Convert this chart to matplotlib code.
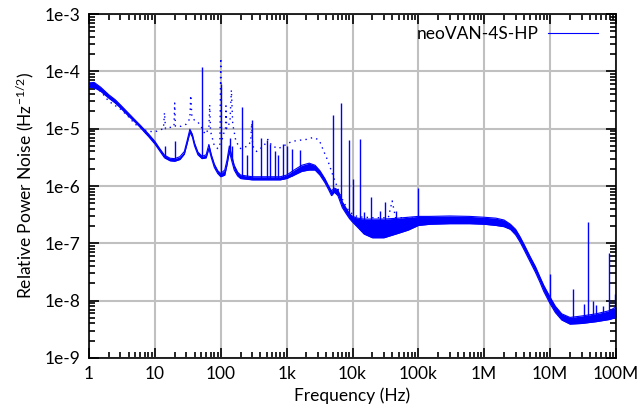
import numpy as np
import matplotlib
matplotlib.use('Agg')
import matplotlib.pyplot as plt
from matplotlib.ticker import FixedLocator, LogLocator, FuncFormatter, NullFormatter

plt.rcParams['font.family'] = ['Lato', 'DejaVu Sans']
plt.rcParams['mathtext.default'] = 'regular'

# solid trace: frequency, lower and upper edge of the noise band
solid_f = [1, 1.2, 1.5, 2.0, 2.5, 3.0, 4.0, 5.0, 6.0, 7.0, 8.0, 10, 12, 14, 17, 20, 24, 28,
           31, 34, 37, 40, 45, 52, 60, 66, 72, 80, 90, 100, 115, 125, 135, 145, 160, 180,
           200, 300, 500, 800, 1000, 1300, 1700, 2200, 2700, 3200, 3800, 4300, 4800, 5300,
           6000, 7000, 8000, 9000, 1e4, 1.2e4, 1.5e4, 2e4, 3e4, 5e4, 7e4, 1e5, 1.5e5, 3e5,
           6e5, 1e6, 1.5e6, 2e6, 2.5e6, 3e6, 3.5e6, 4e6, 5e6, 6e6, 7e6, 8e6, 1e7, 1.2e7,
           1.5e7, 2e7, 3e7, 5e7, 8e7, 1e8]
solid_lo = [5.3e-5, 5.2e-5, 4.5e-5, 3.4e-5, 2.8e-5, 2.3e-5, 1.65e-5, 1.3e-5, 1.05e-5, 8.6e-6,
            7.3e-6, 5.4e-6, 4.0e-6, 3.1e-6, 2.75e-6, 2.7e-6, 2.9e-6, 3.6e-6, 5.6e-6, 8.6e-6,
            7.2e-6, 5.0e-6, 3.5e-6, 3.0e-6, 3.1e-6, 4.5e-6, 3.1e-6, 2.1e-6, 1.65e-6, 1.45e-6,
            1.55e-6, 2.4e-6, 4.0e-6, 2.9e-6, 1.9e-6, 1.5e-6, 1.35e-6, 1.28e-6, 1.28e-6, 1.28e-6,
            1.35e-6, 1.55e-6, 1.8e-6, 1.9e-6, 1.9e-6, 1.55e-6, 1.15e-6, 8.8e-7, 6.8e-7, 7.8e-7,
            6.8e-7, 4.2e-7, 3.3e-7, 2.7e-7, 2.35e-7, 1.9e-7, 1.45e-7, 1.25e-7, 1.25e-7, 1.5e-7,
            1.7e-7, 2.05e-7, 2.15e-7, 2.2e-7, 2.2e-7, 2.15e-7, 2.05e-7, 1.95e-7, 1.75e-7, 1.4e-7,
            1.05e-7, 7.8e-8, 4.7e-8, 3.1e-8, 2.1e-8, 1.45e-8, 8.8e-9, 6.2e-9, 4.6e-9, 3.9e-9,
            4.0e-9, 4.3e-9, 4.7e-9, 5.1e-9]
solid_hi = [6.3e-5, 6.4e-5, 5.3e-5, 3.9e-5, 3.2e-5, 2.6e-5, 1.85e-5, 1.42e-5, 1.15e-5, 9.5e-6,
            8.1e-6, 6.0e-6, 4.4e-6, 3.45e-6, 3.05e-6, 3.0e-6, 3.25e-6, 4.0e-6, 6.3e-6, 9.8e-6,
            8.0e-6, 5.6e-6, 3.9e-6, 3.3e-6, 3.5e-6, 5.3e-6, 3.5e-6, 2.4e-6, 1.85e-6, 1.65e-6,
            1.9e-6, 2.9e-6, 5.0e-6, 3.6e-6, 2.3e-6, 1.75e-6, 1.55e-6, 1.45e-6, 1.45e-6, 1.45e-6,
            1.55e-6, 1.9e-6, 2.3e-6, 2.5e-6, 2.3e-6, 1.85e-6, 1.35e-6, 1.02e-6, 8.2e-7, 9.2e-7,
            8.6e-7, 5.3e-7, 4.1e-7, 3.3e-7, 2.95e-7, 2.75e-7, 2.65e-7, 2.65e-7, 2.65e-7, 2.75e-7,
            2.85e-7, 2.95e-7, 2.95e-7, 3.0e-7, 2.95e-7, 2.85e-7, 2.75e-7, 2.55e-7, 2.15e-7, 1.75e-7,
            1.3e-7, 9.7e-8, 5.8e-8, 3.9e-8, 2.6e-8, 1.85e-8, 1.15e-8, 8.0e-9, 5.9e-9, 5.1e-9,
            5.4e-9, 5.9e-9, 6.7e-9, 7.8e-9]

# spikes on the solid trace
spike_f = [14, 20, 52, 100, 137, 150, 207, 250, 295, 410, 500, 560, 660, 740, 870, 1000,
           1200, 1600, 5100, 6600, 8900, 1e4, 1.3e4, 1.5e4, 1.9e4, 2.6e4, 3.1e4, 4.6e4, 1e5,
           9.9e6, 2.2e7, 3.3e7, 3.7e7, 4.4e7, 5.0e7, 6.4e7, 7.8e7, 9.8e7]
spike_lo = [3.3e-6, 2.9e-6, 3.2e-6, 1.6e-6, 4.0e-6, 3.0e-6, 1.5e-6, 1.4e-6, 1.4e-6, 1.3e-6,
            1.3e-6, 1.3e-6, 1.3e-6, 1.3e-6, 1.3e-6, 1.4e-6, 1.5e-6, 1.8e-6, 8.0e-7, 6.0e-7,
            3.0e-7, 2.6e-7, 2.4e-7, 2.0e-7, 1.5e-7, 1.3e-7, 1.3e-7, 1.6e-7, 2.2e-7,
            1.0e-8, 4.5e-9, 5.0e-9, 5.0e-9, 5.0e-9, 5.0e-9, 5.5e-9, 6.0e-9, 7.0e-9]
spike_top = [5.0e-6, 6.0e-6, 1.19e-4, 6.0e-5, 7.0e-6, 5.0e-6, 2.4e-5, 3.5e-6, 1.4e-5, 7.0e-6,
             6.3e-6, 5.5e-6, 4.0e-6, 3.5e-6, 5.5e-6, 5.0e-6, 4.5e-6, 4.2e-6, 1.7e-5, 2.8e-5,
             6.3e-6, 1.3e-6, 6.6e-6, 3.5e-7, 6.4e-7, 3.7e-7, 5.2e-7, 3.6e-7, 9.2e-7,
             2.9e-8, 1.6e-8, 8.8e-9, 2.4e-7, 1.0e-8, 8.5e-9, 8.0e-9, 6.7e-8, 1.3e-8]

# dotted trace
dot_f = [1, 1.5, 2, 3, 4, 5, 6, 7, 8, 10, 12, 13.5, 14, 14.5, 17, 19.5, 20, 20.5, 25, 30, 34,
         35, 36.5, 40, 45, 50, 58, 66, 68, 70, 80, 90, 97, 100, 103, 110, 118, 120, 123, 138,
         145, 152, 170, 200, 260, 285, 295, 305, 350, 450, 520, 600, 750, 900, 1200, 1600,
         2000, 2500, 3000, 3300, 3600, 4000, 4300, 4800, 5300, 5800, 6500, 7500, 9000, 1.2e4,
         2e4, 3.5e4, 4e4, 4.5e4, 7e4, 1e5, 2e5]
dot_v = [5.5e-5, 4.5e-5, 3.0e-5, 2.2e-5, 1.6e-5, 1.2e-5, 1.05e-5, 9.5e-6, 9.0e-6, 8.8e-6,
         9.5e-6, 1.0e-5, 1.9e-5, 1.0e-5, 1.05e-5, 1.1e-5, 2.8e-5, 1.1e-5, 1.1e-5, 1.2e-5,
         1.5e-5, 3.8e-5, 1.6e-5, 1.4e-5, 1.3e-5, 1.1e-5, 8.0e-6, 1.0e-5, 2.6e-5, 9.0e-6,
         5.0e-6, 4.5e-6, 5.0e-6, 1.7e-4, 6.0e-6, 8.0e-6, 1.0e-5, 2.5e-5, 1.0e-5, 1.3e-5,
         4.7e-5, 1.2e-5, 6.0e-6, 4.5e-6, 5.0e-6, 6.0e-6, 1.25e-5, 5.0e-6, 4.0e-6, 5.0e-6,
         6.5e-6, 5.0e-6, 4.5e-6, 5.0e-6, 6.0e-6, 6.3e-6, 6.5e-6, 7.0e-6, 6.5e-6, 5.5e-6,
         4.2e-6, 3.2e-6, 2.6e-6, 1.8e-6, 1.3e-6, 1.0e-6, 7.0e-7, 5.0e-7, 3.5e-7, 2.9e-7,
         2.8e-7, 2.8e-7, 5.5e-7, 2.8e-7, 2.8e-7, 2.7e-7, 2.6e-7]

x_ticks = [1, 10, 100, 1e3, 1e4, 1e5, 1e6, 1e7, 1e8]
x_labels = ['1', '10', '100', '1k', '10k', '100k', '1M', '10M', '100M']

blue = '#0000ff'

fig = plt.figure(figsize=(6.44, 4.16), dpi=100)
ax = fig.add_axes([89 / 644, 1 - 358 / 416, (616 - 89) / 644, (358 - 14) / 416])

ax.plot(dot_f, dot_v, color=blue, lw=1.0, linestyle=(0, (1, 3)))
ax.fill_between(solid_f, solid_lo, solid_hi, color=blue, lw=0)
ax.plot(solid_f, solid_lo, color=blue, lw=0.8)
ax.plot(solid_f, solid_hi, color=blue, lw=0.8, label='neoVAN-4S-HP')
ax.vlines(spike_f, spike_lo, spike_top, color=blue, lw=1.0)

ax.set_xscale('log')
ax.set_yscale('log')
ax.set_xlim(1, 1e8)
ax.set_ylim(1e-9, 1e-3)

ax.xaxis.set_major_locator(FixedLocator(x_ticks))
ax.set_xticklabels(x_labels)
ax.xaxis.set_minor_locator(LogLocator(base=10, subs=np.arange(2, 10), numticks=20))
ax.xaxis.set_minor_formatter(NullFormatter())
ax.yaxis.set_major_locator(LogLocator(base=10, numticks=20))
ax.yaxis.set_minor_locator(LogLocator(base=10, subs=np.arange(2, 10), numticks=20))
ax.yaxis.set_major_formatter(FuncFormatter(lambda v, p: '1e%d' % round(np.log10(v))))
ax.yaxis.set_minor_formatter(NullFormatter())

ax.tick_params(which='both', direction='in', top=True, right=True, labelsize=12.5, width=1.2)
ax.tick_params(which='major', length=7, pad=6)
ax.tick_params(which='minor', length=4)
for s in ax.spines.values():
    s.set_linewidth(1.2)

ax.grid(True, which='major', color='#c0c0c0', lw=1.5)
ax.set_axisbelow(True)

ax.set_xlabel('Frequency (Hz)', fontsize=12.5, labelpad=4)
ax.set_ylabel('Relative Power Noise (Hz$^{-1/2}$)', fontsize=12.5, labelpad=6)

leg = ax.legend(loc='upper right', bbox_to_anchor=(1 - 18 / 527, 1 - 12 / 344), frameon=False,
                fontsize=12.5, handlelength=2.9, handletextpad=0.5, borderaxespad=0, borderpad=0,
                markerfirst=False)

fig.savefig('out.png', dpi=100)
